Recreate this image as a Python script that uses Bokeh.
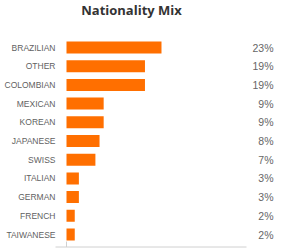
from bokeh.plotting import figure
from bokeh.models import Range1d, ColumnDataSource
from bokeh.core.properties import value
from bokeh.embed import file_html
from bokeh.resources import INLINE

title = "Nationality Mix"
categories = ["BRAZILIAN", "OTHER", "COLOMBIAN", "MEXICAN", "KOREAN", "JAPANESE",
              "SWISS", "ITALIAN", "GERMAN", "FRENCH", "TAIWANESE"]
values = [23, 19, 19, 9, 9, 8, 7, 3, 3, 2, 2]
labels = [f"{v}%" for v in values]

W, H = 300, 249
x0_px = 66.0
px_per_unit = 4.13
y0_px = 47.0
row_px = 18.7

def xd(px):
    return (px - x0_px) / px_per_unit

def yd(px):
    return (px - y0_px) / row_px

idx = list(range(len(categories)))
src = ColumnDataSource(dict(y=idx, v=values, cat=categories, lab=labels))

p = figure(width=W, height=H, output_backend="svg", toolbar_location=None,
           x_range=Range1d(xd(0), xd(W)), y_range=Range1d(yd(H), yd(0)),
           min_border=0, min_border_left=0, min_border_right=0,
           min_border_top=0, min_border_bottom=0)
p.axis.visible = False
p.grid.visible = False
p.outline_line_color = None
p.background_fill_color = "white"
p.border_fill_color = "white"

p.hbar(y="y", left=0, right="v", height=0.64, source=src,
       fill_color="#FF6F00", line_color=None)

p.text(x=xd(55), y="y", text="cat", source=src, text_align="right",
       text_baseline="middle", text_font=value("Liberation Sans"),
       text_font_size="8.5px", text_color="#5f5f5f")

p.text(x=xd(273), y="y", text="lab", source=src, text_align="right",
       text_baseline="middle", text_font=value("Liberation Sans"),
       text_font_size="10.5px", text_color="#666666")

# bottom axis line and zero tick
p.segment(x0=xd(55), y0=yd(246.5), x1=xd(246), y1=yd(246.5),
          line_color="#d0d0d0", line_width=1)
p.segment(x0=0, y0=yd(241), x1=0, y1=yd(246.5),
          line_color="#d0d0d0", line_width=1)

p.text(x=[xd(131)], y=[yd(9)], text=[title], text_align="center",
       text_baseline="middle", text_font=value("Open Sans"),
       text_font_style="bold", text_font_size="13px", text_color="#333333")

open("out.html", "w").write(file_html(p, INLINE))
